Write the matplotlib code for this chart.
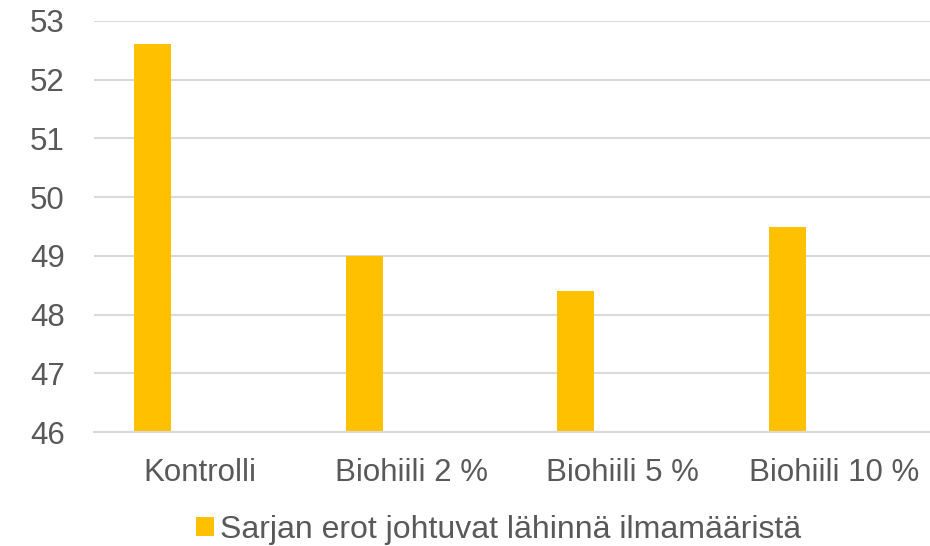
import matplotlib
matplotlib.use("Agg")
import matplotlib.pyplot as plt
from matplotlib.patches import Patch

categories = ["Kontrolli", "Biohiili 2 %", "Biohiili 5 %", "Biohiili 10 %"]
values = [52.6, 49.0, 48.4, 49.5]
series_name = "Sarjan erot johtuvat lähinnä ilmamääristä"
yticks = [46, 47, 48, 49, 50, 51, 52, 53]

plt.rcParams['font.family'] = ['Liberation Sans', 'DejaVu Sans']
text_color = "#595959"
bar_color = "#FFC000"
grid_color = "#D9D9D9"

fig = plt.figure(figsize=(9.3, 5.46), dpi=100)
ax = fig.add_axes([94/930, 1-432/546, 1-94/930, (432-21)/546])

x = list(range(len(categories)))
offset = -0.222
width = 0.175
ax.bar([i + offset for i in x], [v - 46 for v in values], bottom=46,
       width=width, color=bar_color, zorder=3)

ax.set_ylim(46, 53)
ax.set_xlim(-0.5, 3.453)
ax.set_yticks(yticks)
ax.set_yticklabels([str(t) for t in yticks])
ax.set_xticks(x)
ax.set_xticklabels(categories)
ax.tick_params(axis='both', length=0, labelsize=22.5, labelcolor=text_color)
ax.tick_params(axis='y', pad=21)
ax.tick_params(axis='x', pad=19)
ax.yaxis.grid(True, color=grid_color, linewidth=1.5, zorder=0)
for s in ['top', 'right', 'left']:
    ax.spines[s].set_visible(False)
ax.spines['bottom'].set_color(grid_color)
ax.spines['bottom'].set_linewidth(1.5)
ax.spines['bottom'].set_zorder(4)

handle = Patch(facecolor=bar_color, edgecolor='none')
fig.legend([handle], [series_name], loc='center', bbox_to_anchor=(499/930, 1-530/546),
           frameon=False, fontsize=23, labelcolor=text_color,
           handlelength=0.55, handleheight=0.55, handletextpad=0.2,
           borderpad=0, borderaxespad=0)

fig.savefig("out.png", dpi=100)
